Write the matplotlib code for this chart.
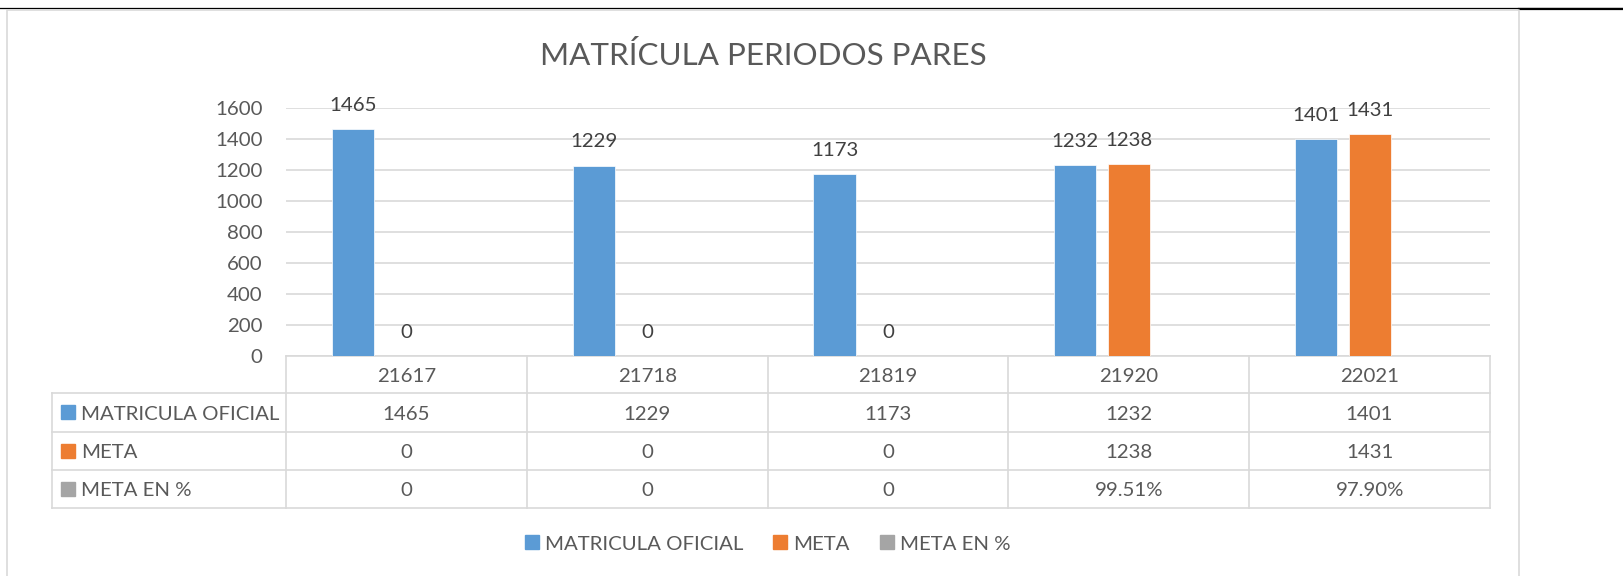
import matplotlib
matplotlib.use('Agg')
import matplotlib.pyplot as plt
import matplotlib.transforms as mtransforms
from matplotlib.patches import Patch, Rectangle
import numpy as np

# Data
categories = ['21617', '21718', '21819', '21920', '22021']
matricula = [1465, 1229, 1173, 1232, 1401]
meta = [0, 0, 0, 1238, 1431]
meta_pct = [0, 0, 0, 0.9951, 0.9790]
meta_pct_text = ['0', '0', '0', '99.51%', '97.90%']
series_names = ['MATRICULA OFICIAL', 'META', 'META EN %']
colors = ['#5B9BD5', '#ED7D31', '#A5A5A5']
yticks = np.arange(0, 1601, 200)
title = 'MATRÍCULA PERIODOS PARES'

plt.rcParams['font.family'] = ['Lato', 'DejaVu Sans']
txt = '#595959'
grid_c = '#D9D9D9'
fs = 14.7

W, H = 1623, 576
fig = plt.figure(figsize=(W / 100, H / 100), dpi=100)

# pixel overlay for frame, title and data table
ov = fig.add_axes([0, 0, 1, 1], zorder=0)
ov.set_xlim(0, W)
ov.set_ylim(H, 0)
ov.set_autoscale_on(False)
ov.axis('off')

# plot area
x0, x1, y_top, y_base = 286, 1490, 108, 356
ax = fig.add_axes([x0 / W, 1 - y_base / H, (x1 - x0) / W, (y_base - y_top) / H], zorder=1)
ax.patch.set_alpha(0)

x = np.arange(len(categories))
bw = 0.175
off = 0.222
for k, (vals, c) in enumerate(zip([matricula, meta, meta_pct], colors)):
    xs = x + (k - 1) * off
    ax.bar(xs, vals, bw, color=c, edgecolor='white', linewidth=0.5, zorder=2)
    if k < 2:
        for xi, v in zip(xs, vals):
            ax.annotate(str(v), (xi, v), xytext=(0, 13), textcoords='offset points',
                        ha='center', va='baseline', fontsize=fs, color='#404040',
                        annotation_clip=False)

ax.set_xlim(-0.5, len(categories) - 0.5)
ax.set_ylim(0, 1600)
ax.set_yticks(yticks)
ax.set_xticks([])
ax.grid(axis='y', color=grid_c, linewidth=1.2)
ax.set_axisbelow(True)
ax.tick_params(axis='y', length=0, pad=17, labelsize=fs, labelcolor=txt)
for s in ax.spines.values():
    s.set_visible(False)

# outer frame
ov.plot([0, W], [8.3, 8.3], color='black', lw=0.9)
ov.plot([1519, W], [9, 9], color='black', lw=1.6)
ov.plot([7, 7, 1519, 1519], [H, 9.5, 9.5, H], color=grid_c, lw=1.2)

# title
ov.text(763, 65, title, ha='center', va='baseline', fontsize=22.6, color=txt)

# data table
tr = mtransforms.blended_transform_factory(ax.transData, ov.transData)
rows = [356, 392.7, 431.7, 469.7, 507.7]
lab_x = 52
for b in np.arange(-0.5, len(categories), 1.0):
    ov.plot([b, b], [rows[0], rows[-1]], transform=tr, color=grid_c, lw=1.2)
ov.plot([lab_x, lab_x], [rows[1], rows[-1]], color=grid_c, lw=1.2)
ov.plot([-0.5, len(categories) - 0.5], [rows[0], rows[0]], transform=tr, color=grid_c, lw=1.2)
for r in rows[1:]:
    ov.plot([lab_x, x1], [r, r], color=grid_c, lw=1.2)

mids = [(rows[i] + rows[i + 1]) / 2 for i in range(4)]
for i, c in enumerate(categories):
    ov.text(i, mids[0] + 7.5, c, transform=tr, ha='center', va='baseline', fontsize=fs, color=txt)

table_vals = [[str(v) for v in matricula], [str(v) for v in meta], meta_pct_text]
for r, (name, c, vals) in enumerate(zip(series_names, colors, table_vals)):
    m = mids[r + 1]
    ov.add_patch(Rectangle((61, m - 7), 14, 14, color=c))
    ov.text(81, m + 7.5, name, ha='left', va='baseline', fontsize=fs, color=txt)
    for i, v in enumerate(vals):
        ov.text(i, m + 7.5, v, transform=tr, ha='center', va='baseline', fontsize=fs, color=txt)

# legend
handles = [Patch(color=c, label=n) for n, c in zip(series_names, colors)]
fig.legend(handles=handles, ncol=3, loc='center', bbox_to_anchor=(767.5 / W, 1 - 544 / H),
           frameon=False, handlelength=0.68, handleheight=0.68, handletextpad=0.3,
           columnspacing=1.47, fontsize=fs, labelcolor=txt, borderpad=0, borderaxespad=0)

fig.savefig('out.png', dpi=100)
